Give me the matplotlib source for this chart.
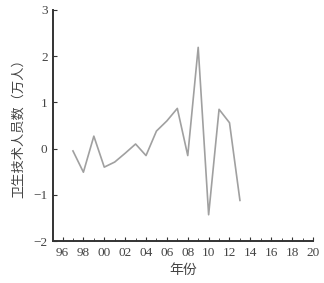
import matplotlib
matplotlib.use('Agg')
import matplotlib.pyplot as plt
from matplotlib.ticker import MultipleLocator, FuncFormatter

years = [1997, 1998, 1999, 2000, 2001, 2002, 2003, 2004, 2005,
         2006, 2007, 2008, 2009, 2010, 2011, 2012, 2013]
values = [-0.05, -0.51, 0.27, -0.40, -0.29, -0.10, 0.10, -0.15, 0.38,
          0.60, 0.87, -0.15, 2.19, -1.43, 0.85, 0.56, -1.12]

serif = ['Liberation Serif', 'DejaVu Serif']
cjk = ['Noto Sans CJK SC', 'DejaVu Sans']

fig = plt.figure(figsize=(3.24, 2.83), dpi=100)
ax = fig.add_axes([0.164, 0.148, 0.802, 0.817])

ax.plot(years, values, color='#a0a0a0', linewidth=1.2)

ax.set_xlim(1995.1, 2020)
ax.set_ylim(-2, 3)
ax.xaxis.set_major_locator(MultipleLocator(2))
ax.xaxis.set_minor_locator(MultipleLocator(1))
ax.xaxis.set_major_formatter(FuncFormatter(lambda v, p: '%02d' % (int(round(v)) % 100)))
ax.yaxis.set_major_locator(MultipleLocator(1))

for s in ['top', 'right']:
    ax.spines[s].set_visible(False)
for s in ['left', 'bottom']:
    ax.spines[s].set_linewidth(1.4)
    ax.spines[s].set_color('#333333')

ax.tick_params(axis='both', which='both', direction='in', colors='#333333',
               labelsize=9.5, pad=4)
ax.tick_params(axis='both', which='major', length=3)
ax.tick_params(axis='x', which='minor', length=2.5)
for lab in ax.get_xticklabels() + ax.get_yticklabels():
    lab.set_family(serif)
    lab.set_color('#444444')

ax.set_xlabel('年份', family=cjk, fontsize=10, color='#444444', labelpad=3)
ax.set_ylabel('卫生技术人员数（万人）', family=cjk, fontsize=9.5, color='#444444', labelpad=6)

fig.savefig('out.png', dpi=100)
